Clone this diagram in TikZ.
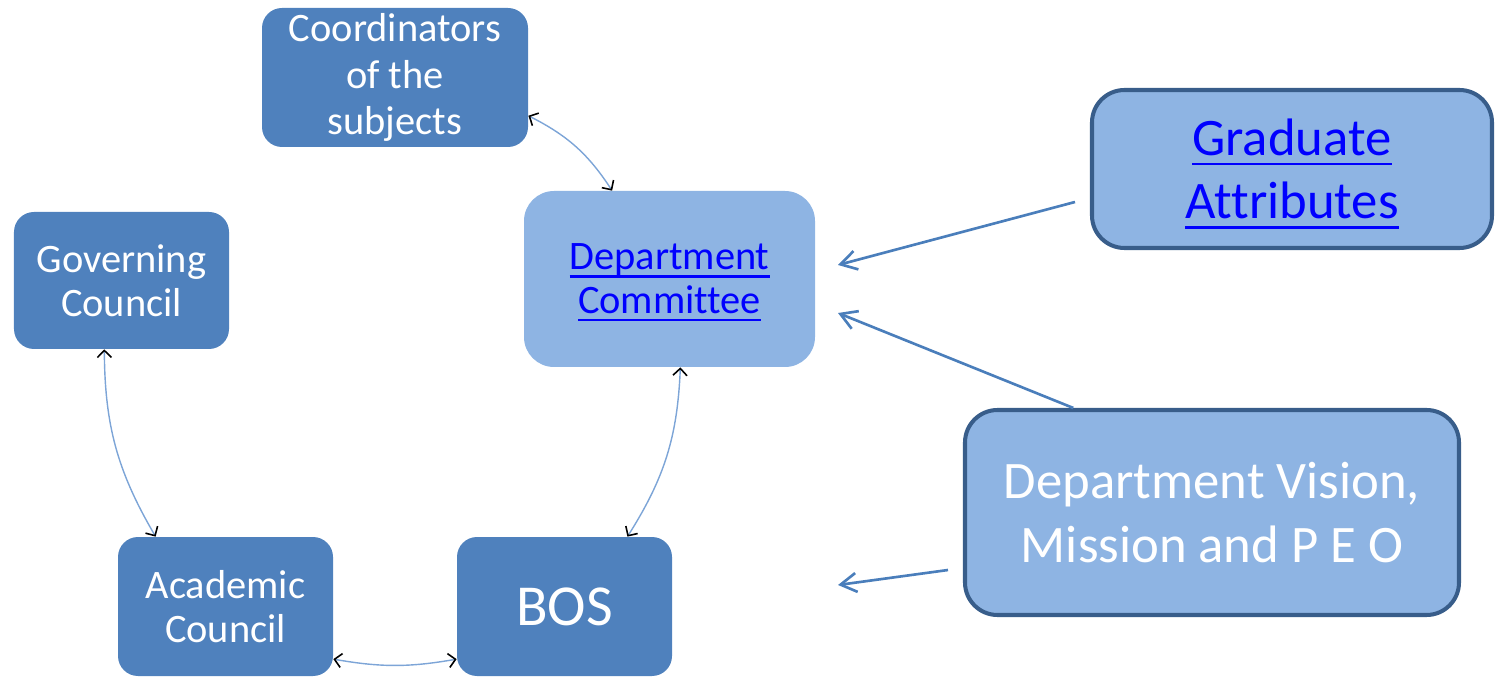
\documentclass[tikz,border=0pt]{standalone}
\usepackage{fontspec}
\setmainfont[Ligatures=NoCommon]{Carlito}
\usetikzlibrary{arrows.meta}

\definecolor{darkfill}{RGB}{79,129,189}
\definecolor{lightfill}{RGB}{142,180,227}
\definecolor{frameline}{RGB}{56,93,138}
\definecolor{feedblue}{RGB}{74,126,187}
\definecolor{cycleblue}{RGB}{125,165,215}
\definecolor{linkblue}{RGB}{0,0,255}

\newcommand\linkword[1]{\setbox0\hbox{#1}\rlap{\smash{\rule[-0.19em]{\wd0}{0.055em}}}\box0}

\begin{document}
\begin{tikzpicture}[
	darkbox/.style={shape=rectangle, rounded corners=0.4cm, fill=darkfill, text=white, align=center, inner sep=1pt, font=\fontsize{23}{25}\selectfont},
	lightbox/.style={shape=rectangle, rounded corners=0.6cm, fill=lightfill, text=linkblue, align=center, inner sep=1pt, font=\fontsize{23}{25}\selectfont},
	framebox/.style={shape=rectangle, rounded corners=0.65cm, fill=lightfill, draw=frameline, line width=2.3pt, align=center, inner sep=1pt, font=\fontsize{30}{36}\selectfont},
	cycleline/.style={draw=cycleblue, line width=0.8pt, {Straight Barb[color=black, length=1.4mm, width=2.8mm, line width=0.9pt]}-{Straight Barb[color=black, length=1.4mm, width=2.8mm, line width=0.9pt]}},
	feedline/.style={draw=feedblue, line width=1.5pt, -{Straight Barb[length=3.2mm, width=3.8mm]}}
]
	\useasboundingbox (0, 0) rectangle (29.98, 13.56);

	% Boxes:
	\node[darkbox, minimum width=5.32cm, minimum height=2.78cm, font=\fontsize{23}{26.5}\selectfont] (coord) at (7.90, 12.01) {Coordinators\\of the\\subjects};
	\node[darkbox, minimum width=4.30cm, minimum height=2.74cm] (gov) at (2.43, 7.95) {Governing\\Council};
	\node[lightbox, minimum width=5.82cm, minimum height=3.52cm] (dept) at (13.39, 7.98) {\linkword{Department}\\\linkword{Committee}};
	\node[darkbox, minimum width=4.30cm, minimum height=2.78cm] (acad) at (4.51, 1.43) {Academic\\Council};
	\node[darkbox, minimum width=4.30cm, minimum height=2.78cm, font=\fontsize{33}{38}\selectfont] (bos) at (11.29, 1.43) {BOS};
	\node[framebox, text=linkblue, minimum width=8.00cm, minimum height=3.16cm] (grad) at (25.84, 10.18) {\linkword{Graduate}\\\linkword{Attributes}};
	\node[framebox, text=white, minimum width=9.88cm, minimum height=4.10cm] (vision) at (24.24, 3.31) {Department Vision,\\Mission and P E O};

	% Free ends of the feed arrows:
	\coordinate (gradtail) at (21.50, 9.52);
	\coordinate (visiontail) at (18.96, 2.16);
	\coordinate (deptin1) at (16.76, 8.26);
	\coordinate (deptin2) at (16.76, 7.30);
	\coordinate (bosin) at (16.76, 1.86);

	% Cycle of committees:
	\draw[cycleline] (coord.-16) to[bend left=15] (dept.123);
	\draw[cycleline] (dept.-83) to[bend left=15] (bos.48);
	\draw[cycleline] (gov.-104) to[bend right=15] (acad.135);
	\draw[cycleline] (acad.-26) to[bend right=10] (bos.206);

	% Feed arrows:
	\draw[feedline] (gradtail) -- (deptin1);
	\draw[feedline] (vision.143) -- (deptin2);
	\draw[feedline] (visiontail) -- (bosin);

\end{tikzpicture}
\end{document}
